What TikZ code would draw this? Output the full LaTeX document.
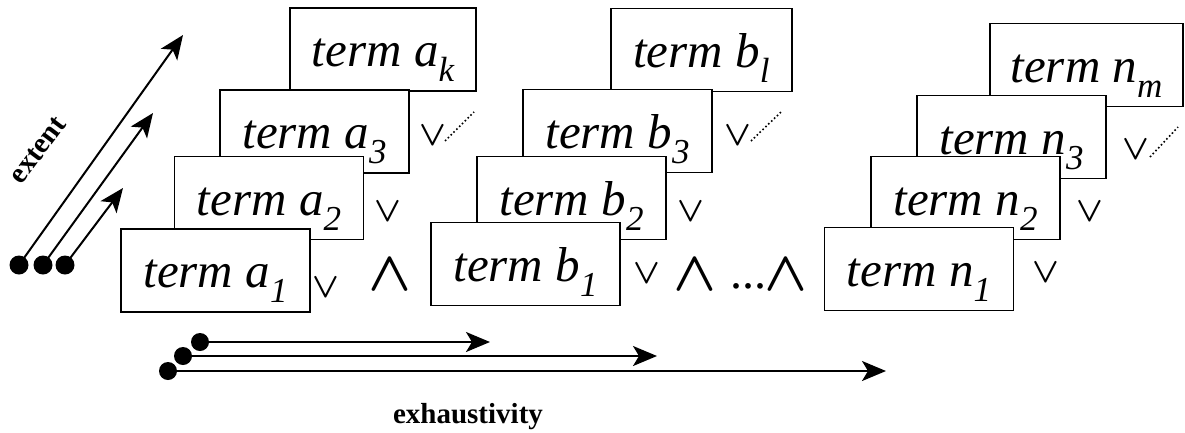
\documentclass[tikz,border=0pt]{standalone}
\usepackage{fontspec}
\setmainfont{Liberation Serif}[ItalicFont={Liberation Serif Italic},BoldFont={Liberation Serif Bold}]
\usepackage{graphicx}
\usetikzlibrary{arrows.meta}
\newcommand\tsub[1]{\raisebox{-15pt}{\fontsize{35}{35}\selectfont #1}}
\newcommand\orglyph{\scalebox{3.5}{\boldmath$\vee$}}
\newcommand\andglyph{\scalebox{5.6}{\boldmath$\wedge$}}
\begin{document}
\begin{tikzpicture}[x=1pt,y=-1pt,
  tbox/.style={draw,fill=white,line width=1.8pt,minimum width=189pt,minimum height=83pt,
    inner sep=0pt,text height=40pt,text depth=6pt,font=\fontsize{49}{49}\selectfont\itshape},
  orsym/.style={inner sep=0pt},
  andsym/.style={inner sep=0pt},
  dotline/.style={line width=1.6pt,dash pattern=on 1.6pt off 2.4pt},
  arr/.style={line width=2pt,-{Stealth[length=24pt,width=20pt,inset=6pt]}},
  dot/.style={circle,fill=black,inner sep=0pt,minimum size=19pt},
  lab/.style={font=\fontsize{29}{29}\selectfont\bfseries,inner sep=0pt}]
\useasboundingbox (0,0) rectangle (1185,432);
% group a
\node[tbox,minimum width=186pt] (ak) at (383,49.5) {term a\tsub{k}};
\node[tbox] (a3) at (314.5,131.5) {term a\tsub{3}};
\node[tbox] (a2) at (269,198) {term a\tsub{2}};
\node[tbox] (a1) at (215.5,270.5) {term a\tsub{1}};
% group b
\node[tbox,minimum width=181pt] (bl) at (701.5,50) {term b\tsub{l}};
\node[tbox] (b3) at (617.5,131) {term b\tsub{3}};
\node[tbox] (b2) at (571.5,198) {term b\tsub{2}};
\node[tbox] (b1) at (525.5,264) {term b\tsub{1}};
% group n
\node[tbox,minimum width=193pt] (nm) at (1086.5,65) {term n\tsub{m}};
\node[tbox] (n3) at (1011.5,137) {term n\tsub{3}};
\node[tbox] (n2) at (965.5,198) {term n\tsub{2}};
\node[tbox] (n1) at (919,269) {term n\tsub{1}};
% or symbols
\node[orsym] (va1) at (326,288) {\orglyph};
\node[orsym] (va2) at (388,212) {\orglyph};
\node[orsym] (va3) at (433,136) {\orglyph};
\node[orsym] (vb1) at (647,274) {\orglyph};
\node[orsym] (vb2) at (691,212) {\orglyph};
\node[orsym] (vb3) at (738,136) {\orglyph};
\node[orsym] (vn1) at (1046,273) {\orglyph};
\node[orsym] (vn2) at (1090,212) {\orglyph};
\node[orsym] (vn3) at (1136,150) {\orglyph};
% dotted continuations
\coordinate (pa1) at (445,141); \coordinate (pa2) at (474,112);
\coordinate (pb1) at (751,141); \coordinate (pb2) at (781,112);
\coordinate (pn1) at (1150,157); \coordinate (pn2) at (1178,127);
\draw[dotline] (pa1) -- (pa2);
\draw[dotline] (pb1) -- (pb2);
\draw[dotline] (pn1) -- (pn2);
% and symbols
\node[andsym] (w1) at (390,275) {\andglyph};
\node[andsym] (w2) at (695,275) {\andglyph};
\node[inner sep=0pt,anchor=base,font=\fontsize{48}{48}\selectfont] (ell) at (748,288) {...};
\node[andsym] (w3) at (786,275) {\andglyph};
% extent arrows
\node[dot] (e1) at (19,265) {};
\node[dot] (e2) at (43,265) {};
\node[dot] (e3) at (65,265) {};
\coordinate (f1) at (183,35);
\coordinate (f2) at (153,113);
\coordinate (f3) at (123,188);
\draw[arr] (e1.center) -- (f1);
\draw[arr] (e2.center) -- (f2);
\draw[arr] (e3.center) -- (f3);
\node[lab,rotate=53] (ext) at (38,150) {extent};
% exhaustivity arrows
\node[dot,minimum size=18pt] (x1) at (200,342) {};
\node[dot,minimum size=18pt] (x2) at (183,356) {};
\node[dot,minimum size=18pt] (x3) at (168,371) {};
\coordinate (y1) at (490,342);
\coordinate (y2) at (657,356);
\coordinate (y3) at (886,371);
\draw[arr] (x1.center) -- (y1);
\draw[arr] (x2.center) -- (y2);
\draw[arr] (x3.center) -- (y3);
\node[lab,anchor=base] (exh) at (468,423) {exhaustivity};
\end{tikzpicture}
\end{document}
